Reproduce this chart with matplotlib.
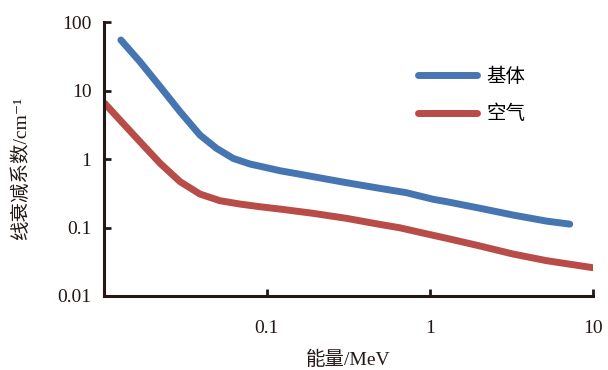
import numpy as np
import matplotlib
matplotlib.use('Agg')
import matplotlib.pyplot as plt
from matplotlib.ticker import FixedLocator, FixedFormatter, NullLocator

plt.rcParams['font.family'] = ['Liberation Serif', 'DejaVu Serif', 'Noto Sans CJK SC']

# 能量 / MeV 与线衰减系数 / cm^-1
x_base = [0.0127, 0.01663, 0.0221, 0.0293, 0.0388, 0.0491, 0.0621, 0.0787, 0.0996,
          0.120, 0.159, 0.192, 0.308, 0.493, 0.719, 0.868, 1.05, 1.27, 2.03,
          3.24, 5.20, 7.22]
y_base = [54.6, 26.3, 11.4, 4.91, 2.24, 1.43, 1.02, 0.845, 0.746,
          0.675, 0.60, 0.552, 0.451, 0.373, 0.322, 0.288, 0.258, 0.238, 0.191,
          0.152, 0.124, 0.112]

x_air = [0.0101, 0.01253, 0.01663, 0.0221, 0.0293, 0.0388, 0.0515, 0.0683, 0.0906,
         0.120, 0.192, 0.308, 0.493, 0.655, 0.868, 1.27, 2.03, 3.24, 5.20, 10.0]
y_air = [6.5, 3.71, 1.79, 0.866, 0.467, 0.308, 0.246, 0.220, 0.201,
         0.186, 0.161, 0.136, 0.111, 0.099, 0.085, 0.0695, 0.0537, 0.041, 0.0328, 0.0259]

names = ['基体', '空气']
colors = ['#4676b2', '#b84c48']
ink = '#231815'

fig = plt.figure(figsize=(6.08, 3.70), dpi=100)
ax = fig.add_axes([0.171, 0.2, 0.804, 0.7405])

ax.plot(x_base, y_base, color=colors[0], lw=5, solid_capstyle='round',
        solid_joinstyle='round', label=names[0])
ax.plot(x_air, y_air, color=colors[1], lw=5, solid_capstyle='round',
        solid_joinstyle='round', label=names[1])

ax.set_xscale('log')
ax.set_yscale('log')
ax.set_xlim(0.01, 10)
ax.set_ylim(0.01, 100)

ax.xaxis.set_major_locator(FixedLocator([0.1, 1, 10]))
ax.xaxis.set_major_formatter(FixedFormatter(['0.1', '1', '10']))
ax.xaxis.set_minor_locator(NullLocator())
ax.yaxis.set_major_locator(FixedLocator([0.01, 0.1, 1, 10, 100]))
ax.yaxis.set_major_formatter(FixedFormatter(['0.01', '0.1', '1', '10', '100']))
ax.yaxis.set_minor_locator(NullLocator())

for s in ['top', 'right']:
    ax.spines[s].set_visible(False)
for s in ['left', 'bottom']:
    ax.spines[s].set_linewidth(2.2)
    ax.spines[s].set_color(ink)

ax.tick_params(axis='both', direction='in', length=5, width=2, colors=ink,
               labelsize=14, labelcolor=ink)
ax.tick_params(axis='x', pad=17)
ax.tick_params(axis='y', pad=9)

ax.set_xlabel('能量/MeV', fontsize=14, color=ink, labelpad=10)
ax.set_ylabel('线衰减系数/cm⁻¹', fontsize=14, color=ink)
ax.yaxis.set_label_coords(-0.152, 0.465)

leg = ax.legend(loc='upper left', bbox_to_anchor=(0.643, 0.835), frameon=False,
                fontsize=14, handlelength=3.0, handletextpad=0.5, labelspacing=1.0,
                borderpad=0, borderaxespad=0)

fig.savefig('out.png', dpi=100)
